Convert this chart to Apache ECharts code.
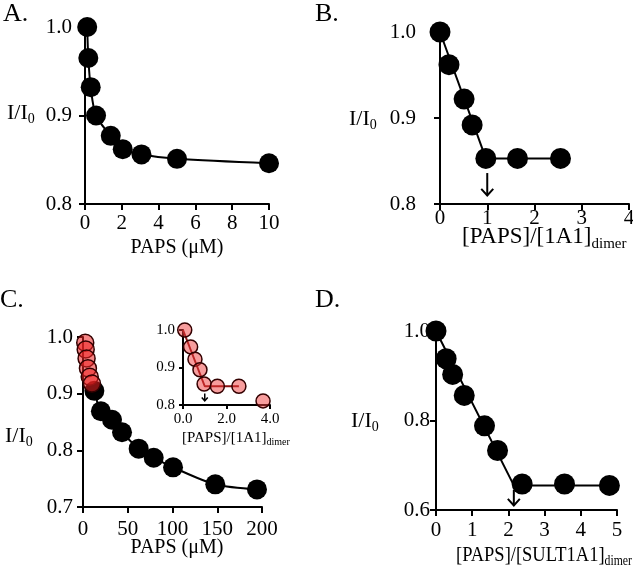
<!DOCTYPE html>
<html><head><meta charset="utf-8">
<script src="https://cdn.jsdelivr.net/npm/echarts@6/dist/echarts.min.js"></script>
<style>html,body{margin:0;padding:0;background:#fff}#c{width:633px;height:566px}</style>
</head><body><div id="c"></div>
<script>
// Panel A
const aX = [0.12, 0.18, 0.31, 0.6, 1.4, 2.05, 3.07, 5.0, 10.0];
const aY = [1.0, 0.965, 0.932, 0.9, 0.877, 0.862, 0.856, 0.851, 0.846];
// Panel B
const bX = [0, 0.19, 0.51, 0.68, 0.97, 1.64, 2.55];
const bY = [1.0, 0.962, 0.922, 0.892, 0.853, 0.853, 0.853];
const bFitX = [0, 0.97, 2.55];
const bFitY = [1.0, 0.853, 0.853];
const bArrow = [1.0, 0.836, 0.81];
// Panel C
const cBlackX = [12.7, 20, 32.4, 43.6, 62.2, 79, 100.6, 147.8, 194.4];
const cBlackY = [0.905, 0.869, 0.854, 0.832, 0.803, 0.787, 0.770, 0.740, 0.731];
const cRedX = [2.5, 3.0, 4.0, 5.5, 7.5, 10.0];
const cRedY = [0.99, 0.978, 0.962, 0.945, 0.93, 0.918];
// Inset of C
const iX = [0.08, 0.35, 0.55, 0.78, 0.97, 1.58, 2.57, 3.68];
const iY = [1.0, 0.955, 0.922, 0.894, 0.856, 0.85, 0.85, 0.811];
const iFitX = [0, 1.0, 2.57];
const iFitY = [1.0, 0.85, 0.85];
const iArrow = [1.0, 0.831, 0.811];
// Panel D
const dX = [0, 0.28, 0.46, 0.78, 1.34, 1.70, 2.38, 3.55, 4.79];
const dY = [1.0, 0.938, 0.903, 0.856, 0.788, 0.733, 0.658, 0.658, 0.655];
const dFitX = [0, 2.15, 4.8];
const dFitY = [1.0, 0.655, 0.655];
const dArrow = [2.15, 0.645, 0.61];

const zip = (xs, ys) => xs.map((x, i) => [x, ys[i]]);
const FONT = 'Liberation Serif';
const chart = echarts.init(document.getElementById('c'), null, {renderer: 'canvas'});

function xAx(gi, min, max, interval, margin, fs, dec) {
  return {gridIndex: gi, type: 'value', min, max, interval,
    axisLine: {show: true, onZero: false, lineStyle: {color: '#000', width: 2}},
    axisTick: {show: true, inside: false, length: fs > 16 ? 6 : 4, lineStyle: {color: '#000', width: 2}},
    axisLabel: {color: '#000', fontFamily: FONT, fontSize: fs, margin,
      formatter: v => dec ? v.toFixed(1) : String(Math.round(v))},
    splitLine: {show: false}};
}
function yAx(gi, min, max, interval, margin, fs) {
  return {gridIndex: gi, type: 'value', min, max, interval,
    axisLine: {show: true, onZero: false, lineStyle: {color: '#000', width: 2}},
    axisTick: {show: true, inside: false, length: fs > 16 ? 6 : 4, lineStyle: {color: '#000', width: 2}},
    axisLabel: {color: '#000', fontFamily: FONT, fontSize: fs, margin, formatter: v => v.toFixed(1)},
    splitLine: {show: false}};
}
const g = (left, top, width, height) => ({left, top, width, height, containLabel: false, outerBoundsMode: 'none'});

const blackSym = {color: '#000', opacity: 1};
const redStyle = {color: 'rgba(238,35,35,0.55)', borderColor: '#300', borderWidth: 1.5, opacity: 1};

const option = {
  animation: false,
  grid: [g(85, 27, 184, 177), g(440, 32, 189, 172), g(83, 337, 179, 170), g(183, 330, 87, 75), g(436, 331, 181, 179)],
  xAxis: [xAx(0, 0, 10, 2, 9, 21), xAx(1, 0, 4, 1, 4, 21), xAx(2, 0, 200, 50, 12, 21), xAx(3, 0, 4, 2, 7, 15, true), xAx(4, 0, 5, 1, 10, 21)],
  yAxis: [yAx(0, 0.8, 1.0, 0.1, 13, 21), yAx(1, 0.8, 1.0, 0.1, 24, 21), yAx(2, 0.7, 1.0, 0.1, 10, 21), yAx(3, 0.8, 1.0, 0.1, 8, 15), yAx(4, 0.6, 1.0, 0.2, 6, 21)],
  series: [
    {type: 'line', xAxisIndex: 0, yAxisIndex: 0, data: zip(aX, aY), smooth: 0.3, symbol: 'circle', symbolSize: 20, clip: false,
      itemStyle: blackSym, lineStyle: {color: '#000', width: 2}},
    {type: 'line', xAxisIndex: 1, yAxisIndex: 1, data: zip(bFitX, bFitY), showSymbol: false, lineStyle: {color: '#000', width: 2}, clip: false},
    {type: 'scatter', xAxisIndex: 1, yAxisIndex: 1, data: zip(bX, bY), symbolSize: 21, itemStyle: blackSym, clip: false},
    {type: 'line', xAxisIndex: 2, yAxisIndex: 2, data: zip(cBlackX, cBlackY), smooth: 0.3, symbol: 'circle', symbolSize: 20, clip: false,
      itemStyle: blackSym, lineStyle: {color: '#000', width: 2}},
    {type: 'scatter', xAxisIndex: 2, yAxisIndex: 2, data: zip(cRedX, cRedY), symbolSize: 17, itemStyle: redStyle, clip: false, z: 5},
    {type: 'line', xAxisIndex: 3, yAxisIndex: 3, data: zip(iFitX, iFitY), showSymbol: false, lineStyle: {color: '#8a1010', width: 2}, clip: false},
    {type: 'scatter', xAxisIndex: 3, yAxisIndex: 3, data: zip(iX, iY), symbolSize: 14, itemStyle: {color: 'rgba(240,60,60,0.5)', borderColor: '#300', borderWidth: 1.5, opacity: 1}, clip: false, z: 5},
    {type: 'line', xAxisIndex: 4, yAxisIndex: 4, data: zip(dFitX, dFitY), showSymbol: false, lineStyle: {color: '#000', width: 2}, clip: false},
    {type: 'scatter', xAxisIndex: 4, yAxisIndex: 4, data: zip(dX, dY), symbolSize: 21, itemStyle: blackSym, clip: false}
  ]
};
chart.setOption(option);

function txt(x, y, rich, text, align, sx) {
  return {type: 'text', x, y, scaleX: sx || 1, style: {text, rich, fill: '#000', align: align || 'left', verticalAlign: 'middle',
    fontFamily: FONT}};
}
const rich = (fs, sub) => ({m: {fontFamily: FONT, fontSize: fs, color: '#000'}, s: {fontFamily: FONT, fontSize: sub, color: '#000', padding: [sub * 0.9, 0, 0, 0]}});
const R20 = rich(20, 13), R21 = rich(22, 14), R23 = rich(23, 15), R15 = rich(15, 10), R26 = rich(26, 12);

const graphics = [
  txt(3, 14, R26, '{m|A.}'), txt(315, 14, R26, '{m|B.}'), txt(0, 300, R26, '{m|C.}'), txt(315, 300, R26, '{m|D.}'),
  txt(7, 113, R21, '{m|I/I}{s|0}'), txt(349, 119, R21, '{m|I/I}{s|0}'), txt(5, 436, R21, '{m|I/I}{s|0}'), txt(351, 421, R21, '{m|I/I}{s|0}'),
  txt(177, 248, R20, '{m|PAPS (μM)}', 'center'),
  txt(177, 548, R20, '{m|PAPS (μM)}', 'center'),
  txt(462, 237, R23, '{m|[PAPS]/[1A1]}{s|dimer}'),
  txt(182, 438, R15, '{m|[PAPS]/[1A1]}{s|dimer}'),
  txt(632, 555, R21, '{m|[PAPS]/[SULT1A1]}{s|dimer}', 'right', 0.84)
];
function arrow(gi, a, head, w) {
  const p1 = chart.convertToPixel({gridIndex: gi}, [a[0], a[1]]);
  const p2 = chart.convertToPixel({gridIndex: gi}, [a[0], a[2]]);
  graphics.push({type: 'polyline', shape: {points: [p1, p2]}, style: {stroke: '#000', lineWidth: w, fill: null}, z: 10});
  graphics.push({type: 'polyline', shape: {points: [[p2[0] - head, p2[1] - head * 1.1], p2, [p2[0] + head, p2[1] - head * 1.1]]},
    style: {stroke: '#000', lineWidth: w, fill: null}, z: 10});
}
arrow(1, bArrow, 6, 2);
arrow(3, iArrow, 3, 1.5);
arrow(4, dArrow, 6, 2);
chart.setOption({graphic: graphics});
</script></body></html>
